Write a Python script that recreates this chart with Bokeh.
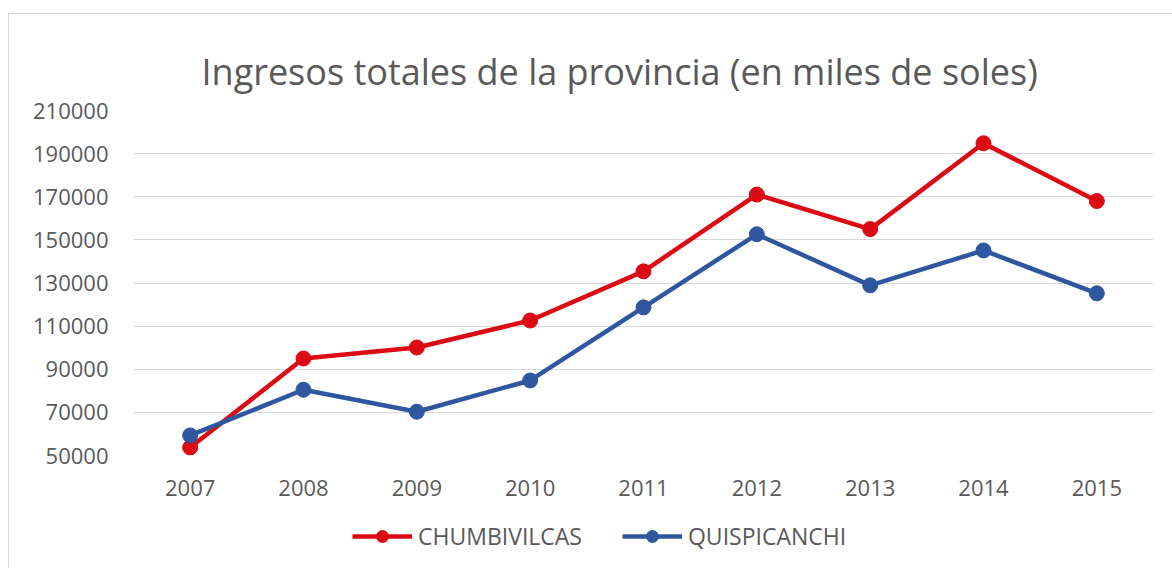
from bokeh.plotting import figure
from bokeh.layouts import column
from bokeh.models import FactorRange, Range1d, Legend, LegendItem, NumeralTickFormatter
from bokeh.embed import file_html
from bokeh.resources import INLINE

years = ["2007", "2008", "2009", "2010", "2011", "2012", "2013", "2014", "2015"]
chumbivilcas = [53700, 95000, 100100, 112600, 135400, 171000, 155000, 194800, 168000]
quispicanchi = [59300, 80500, 70300, 84800, 118700, 152600, 128900, 145100, 125200]
y_ticks = [50000, 70000, 90000, 110000, 130000, 150000, 170000, 190000, 210000]
series_names = ["CHUMBIVILCAS", "QUISPICANCHI"]

RED = "#dc0a12"
BLUE = "#2f57a0"
TXT = "#595959"
FONT = "Open Sans"

p = figure(width=1163, height=501, output_backend="svg", toolbar_location=None,
           x_range=FactorRange(*years, range_padding=0), y_range=Range1d(50000, 210000),
           min_border_left=124, min_border_right=19, min_border_top=96, min_border_bottom=60)

p.title.text = "Ingresos totales de la provincia (en miles de soles)"
p.title.text_font = FONT
p.title.text_font_size = "36px"
p.title.text_font_style = "normal"
p.title.text_color = TXT
p.title.align = "left"
p.title.offset = 68
p.title.standoff = 30

p.line(years, chumbivilcas, line_color=RED, line_width=4.5)
p.scatter(years, chumbivilcas, size=15, fill_color=RED, line_color=RED)
p.line(years, quispicanchi, line_color=BLUE, line_width=4.5)
p.scatter(years, quispicanchi, size=15, fill_color=BLUE, line_color=BLUE)

p.yaxis.ticker = y_ticks
p.yaxis.formatter = NumeralTickFormatter(format="0")
for ax in (p.xaxis[0], p.yaxis[0]):
    ax.axis_line_color = None
    ax.major_tick_line_color = None
    ax.minor_tick_line_color = None
    ax.major_label_text_font = FONT
    ax.major_label_text_font_size = "22px"
    ax.major_label_text_color = TXT
p.yaxis.major_label_standoff = 19
p.xaxis.major_label_standoff = 18

p.xgrid.grid_line_color = None
p.ygrid.grid_line_color = "#d9d9d9"
p.ygrid.grid_line_width = 1
p.outline_line_color = None

# legend strip below the chart (its series lie outside its own visible range)
lg = figure(width=1163, height=53, output_backend="svg", toolbar_location=None,
            x_range=FactorRange(*years, range_padding=0), y_range=Range1d(0, 1),
            min_border_left=124, min_border_right=19, min_border_top=0, min_border_bottom=0)
lg.axis.visible = False
lg.grid.visible = False
lg.outline_line_color = None
items = []
for name, col, vals in zip(series_names, [RED, BLUE], [chumbivilcas, quispicanchi]):
    rl = lg.line(years, vals, line_color=col, line_width=4.5)
    rs = lg.scatter(years, vals, size=15, fill_color=col, line_color=col)
    items.append(LegendItem(label=name, renderers=[rl, rs]))
legend = Legend(items=items, orientation="horizontal", location=(219, 16),
                label_text_font=FONT, label_text_font_size="23px", label_text_color=TXT,
                glyph_width=60, glyph_height=30, spacing=40, label_standoff=6,
                padding=0, margin=0,
                border_line_color=None, background_fill_alpha=0)
lg.add_layout(legend, "center")

layout = column(p, lg, spacing=0,
                styles={"border-left": "1px solid #d9d9d9", "border-top": "1px solid #d9d9d9",
                        "margin-left": "8px", "margin-top": "13px"})
open("out.html", "w").write(file_html(layout, INLINE))
